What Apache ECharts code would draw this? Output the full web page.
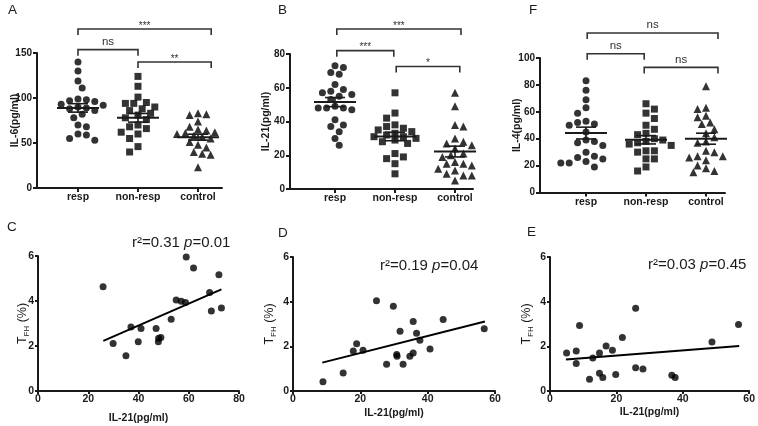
<!DOCTYPE html>
<html><head><meta charset="utf-8">
<script src="https://cdn.jsdelivr.net/npm/echarts@6/dist/echarts.min.js"></script>
<style>html,body{margin:0;padding:0;background:#fff}#c{width:758px;height:426px}</style>
</head><body><div id="c"></div>
<script>
// ---------- data ----------
const categories = ['resp', 'non-resp', 'control'];

const il6Resp    = [140,130,119,111,99,98,97,96,93,92,90,89,88,86,82,78,70,68,60,59,55,53];
const il6NonResp = [124,113,101,95,94,94,90,88,86,83,81,78,76,70,68,66,62,60,55,46,40];
const il6Control = [83,82,81,74,68,65,64,62,61,60,59,58,57,55,51,48,45,40,38,37,23];
const il6Mean = [89, 78, 56.5];
const il6Sem  = [4.7, 4.8, 3.3];

const il21Resp    = [73,72,69,68,62,59,58,57,56,55,53,49,48,48,48,47,41,38,37,34,30,26];
const il21NonResp = [57,45,42,38,37,36,35,34,33,32,31,31,30,29,28,27,21,19,18,15,9];
const il21Control = [57,49,38,37,30,28,27,26,24,21,20,19,16,15,15,14,12,11,9,8,8,5];
const il21Mean = [51.5, 31.1, 22.2];
const il21Sem  = [2.7, 2.5, 3.2];

const il4Resp    = [83,76,69,63,59,53,52,51,50,45,39,38,37,35,30,27,26,25,23,22,22,19];
const il4NonResp = [66,62,59,55,50,47,44,43,40,39,38,37,36,35,31,31,30,25,25,19,16];
const il4Control = [79,63,62,57,56,52,51,47,44,41,38,37,31,30,27,27,26,24,20,18,16,15];
const il4Mean = [44.2, 39.2, 40];
const il4Sem  = [4.4, 3.1, 4.1];

// significance brackets: [from, to, level]
const bracketsA = [[0, 2.22, 176.7], [0, 1, 153.7], [1, 2.22, 140]];
const labelsA = ['***', 'ns', '**'];
const bracketsB = [[0.03, 2.1, 94.8], [0.03, 0.98, 82], [1.02, 2.08, 72.6]];
const labelsB = ['***', '***', '*'];
const bracketsF = [[0.02, 2.2, 118.6], [0.02, 0.97, 103.2], [0.97, 2.2, 93]];
const labelsF = ['ns', 'ns', 'ns'];

// correlation panels
const cX = [25.9,29.9,35,37,39.9,41,47,48,48.9,47.9,53,55,57,58.7,59,61.9,68.3,69,72,73];
const cY = [4.63,2.11,1.57,2.85,2.19,2.78,2.78,2.34,2.38,2.19,3.19,4.04,3.99,3.93,5.96,5.47,4.38,3.56,5.17,3.69];
const fitCX = [26, 73];
const fitCY = [2.23, 4.52];

const dX = [8.9,14.9,17.9,18.9,20.8,24.8,27.8,29.8,31.8,30.8,30.9,32.7,34.7,35.7,35.7,36.7,37.7,40.7,44.6,56.8];
const dY = [0.41,0.81,1.79,2.12,1.82,4.04,1.2,3.79,2.67,1.63,1.56,1.2,1.56,1.7,3.11,2.59,2.27,1.88,3.2,2.79];
const fitDX = [8.7, 57];
const fitDY = [1.27, 3.11];

const eX = [5,7.9,7.9,8.9,11.9,12.9,14.9,14.9,15.9,16.9,18.8,19.8,21.8,25.8,25.8,28,36.7,37.7,48.8,56.8];
const eY = [1.7,1.79,1.23,2.93,0.53,1.48,1.7,0.79,0.61,2.01,1.82,0.74,2.39,3.7,1.04,0.98,0.71,0.61,2.19,2.98];
const fitEX = [4.8, 57];
const fitEY = [1.41, 2.01];

const statsC = ['0.31', '0.01'];
const statsD = ['0.19', '0.04'];
const statsE = ['0.03', '0.45'];

// ---------- layout / style ----------
const FONT = '"Liberation Sans", Arial, Helvetica, sans-serif';
const INK = '#1a1a1a';
const chart = echarts.init(document.getElementById('c'), null, {renderer: 'canvas'});

function zip(a, b) { return a.map((v, i) => [v, b[i]]); }

// column-scatter spreading: greedy placement, capped width (layout only, values unchanged)
function swarm(values, cat, pxX, pxY, size) {
  const order = values.map((v, i) => i).sort((a, b) => values[b] - values[a]);
  const res = new Array(values.length);
  const placed = [];
  const step = 4.2, maxSteps = 6, need = size + 0.6;
  order.forEach((i, k) => {
    const py = values[i] * pxY;
    const sgn = (k % 2) ? 1 : -1;
    let best = null, bestCost = Infinity;
    for (let s = 0; s <= maxSteps; s++) {
      for (const d of (s === 0 ? [0] : [sgn * s, -sgn * s])) {
        const px = d * step;
        let pen = 0;
        placed.forEach(p => { const dist = Math.hypot(p[0] - px, p[1] - py); if (dist < need) pen += need - dist; });
        const cost = pen * 10 + Math.abs(px) * 0.05;
        if (cost < bestCost) { bestCost = cost; best = px; }
      }
      if (bestCost < 1) break;
    }
    placed.push([best, py]);
    res[i] = [cat + best / pxX, values[i]];
  });
  return res;
}

const grids = [], xAxes = [], yAxes = [], series = [];

function axisCommon() {
  return {
    axisLine: {show: true, onZero: false, lineStyle: {color: INK, width: 2}},
    splitLine: {show: false},
    nameMoveOverlap: false
  };
}

function topPanel(g, box, xmin, xmax, ymax, interval, yName, nameGap, groups, means, sems, brackets, blabels) {
  grids.push(box);
  xAxes.push(Object.assign(axisCommon(), {
    gridIndex: g, type: 'value', min: xmin, max: xmax,
    axisTick: {show: true, customValues: [0, 1, 2], length: 4, lineStyle: {color: INK, width: 2}},
    axisLabel: {customValues: [0, 1, 2], formatter: v => categories[Math.round(v)] || '',
      fontFamily: FONT, fontWeight: 'bold', fontSize: 10.5, color: INK, margin: 4}
  }));
  yAxes.push(Object.assign(axisCommon(), {
    gridIndex: g, type: 'value', min: 0, max: ymax, interval: interval,
    axisTick: {show: true, length: 4, lineStyle: {color: INK, width: 2}},
    axisLabel: {fontFamily: FONT, fontWeight: 'bold', fontSize: 10, color: INK, margin: 5},
    name: yName, nameLocation: 'middle', nameGap: nameGap,
    nameTextStyle: {fontFamily: FONT, fontWeight: 'bold', fontSize: 10.5, color: INK}
  }));
  const pxX = box.width / (xmax - xmin);
  const pxY = box.height / ymax;
  const symbols = ['circle', 'rect', 'triangle'];
  const sizes = [7, 7, 8];
  groups.forEach((vals, c) => {
    series.push({
      type: 'scatter', xAxisIndex: g, yAxisIndex: g, symbol: symbols[c], symbolSize: sizes[c],
      itemStyle: {color: '#000'}, silent: true, z: 2,
      data: swarm(vals, c, pxX, pxY, 7)
    });
  });
  series.push({
    type: 'custom', xAxisIndex: g, yAxisIndex: g, z: 5, silent: true,
    data: means.map((m, c) => [c, m, sems[c]]),
    encode: {x: 0, y: 1},
    renderItem: (params, api) => {
      const c = api.coord([api.value(0), api.value(1)]);
      const t = api.coord([api.value(0), api.value(1) + api.value(2)]);
      const b = api.coord([api.value(0), api.value(1) - api.value(2)]);
      const st = {stroke: INK, lineWidth: 1.6};
      return {type: 'group', children: [
        {type: 'line', shape: {x1: c[0] - 21, y1: c[1], x2: c[0] + 21, y2: c[1]}, style: {stroke: INK, lineWidth: 2}},
        {type: 'line', shape: {x1: t[0], y1: t[1], x2: b[0], y2: b[1]}, style: st},
        {type: 'line', shape: {x1: t[0] - 10, y1: t[1], x2: t[0] + 10, y2: t[1]}, style: st},
        {type: 'line', shape: {x1: b[0] - 10, y1: b[1], x2: b[0] + 10, y2: b[1]}, style: st}
      ]};
    }
  });
  series.push({
    type: 'custom', xAxisIndex: g, yAxisIndex: g, z: 5, silent: true, clip: false,
    data: brackets,
    encode: {x: [0, 1], y: 2},
    renderItem: (params, api) => {
      const p1 = api.coord([api.value(0), api.value(2)]);
      const p2 = api.coord([api.value(1), api.value(2)]);
      const lbl = blabels[params.dataIndex];
      const star = lbl.indexOf('*') >= 0;
      return {type: 'group', children: [
        {type: 'polyline', shape: {points: [[p1[0], p1[1] + 6], [p1[0], p1[1]], [p2[0], p2[1]], [p2[0], p2[1] + 6]]},
          style: {stroke: '#333', lineWidth: 1.6, fill: null}},
        {type: 'text', x: (p1[0] + p2[0]) / 2, y: p1[1] - (star ? -2 : 2),
          style: {text: lbl, fill: '#333', fontFamily: FONT, fontSize: star ? 10 : 11.5,
            fontWeight: 'normal', align: 'center', verticalAlign: 'bottom'}}
      ]};
    }
  });
}

function bottomPanel(g, box, xmax, nameGapX, nameGapY, xs, ys, fx, fy) {
  grids.push(box);
  xAxes.push(Object.assign(axisCommon(), {
    gridIndex: g, type: 'value', min: 0, max: xmax, interval: 20,
    axisTick: {show: true, length: 3, lineStyle: {color: INK, width: 2}},
    axisLabel: {fontFamily: FONT, fontWeight: 'bold', fontSize: 10.5, color: INK, margin: 3},
    name: 'IL-21(pg/ml)', nameLocation: 'middle', nameGap: nameGapX,
    nameTextStyle: {fontFamily: FONT, fontWeight: 'bold', fontSize: 10.5, color: INK}
  }));
  yAxes.push(Object.assign(axisCommon(), {
    gridIndex: g, type: 'value', min: 0, max: 6, interval: 2,
    axisTick: {show: true, length: 3, lineStyle: {color: INK, width: 2}},
    axisLabel: {fontFamily: FONT, fontWeight: 'bold', fontSize: 10.5, color: INK, margin: 4},
    name: '{t|T}{s|FH}{t| (%)}', nameLocation: 'middle', nameGap: nameGapY,
    nameTextStyle: {rich: {
      t: {fontFamily: FONT, fontSize: 12.5, color: INK, lineHeight: 16},
      s: {fontFamily: FONT, fontSize: 8, color: INK, verticalAlign: 'bottom', lineHeight: 10}
    }}
  }));
  series.push({
    type: 'scatter', xAxisIndex: g, yAxisIndex: g, symbol: 'circle', symbolSize: 7,
    itemStyle: {color: '#000'}, silent: true, data: zip(xs, ys)
  });
  series.push({
    type: 'line', xAxisIndex: g, yAxisIndex: g, symbol: 'none', silent: true,
    lineStyle: {color: '#000', width: 2}, data: zip(fx, fy)
  });
}

topPanel(0, {left: 37, top: 53, width: 185, height: 135}, -0.683, 2.4, 150, 50, 'IL-6(pg/ml)', 16,
  [il6Resp, il6NonResp, il6Control], il6Mean, il6Sem, bracketsA, labelsA);
topPanel(1, {left: 290, top: 54, width: 183, height: 135}, -0.75, 2.3, 80, 20, 'IL-21(pg/ml)', 18.5,
  [il21Resp, il21NonResp, il21Control], il21Mean, il21Sem, bracketsB, labelsB);
topPanel(2, {left: 540, top: 58, width: 185, height: 134.5}, -0.767, 2.317, 100, 20, 'IL-4(pg/ml)', 17.5,
  [il4Resp, il4NonResp, il4Control], il4Mean, il4Sem, bracketsF, labelsF);

bottomPanel(3, {left: 38, top: 256, width: 201, height: 135}, 80, 22, 7, cX, cY, fitCX, fitCY);
bottomPanel(4, {left: 293, top: 257, width: 202, height: 134}, 60, 17, 15, dX, dY, fitDX, fitDY);
bottomPanel(5, {left: 550, top: 257, width: 202, height: 134}, 60, 16, 15, eX, eY, fitEX, fitEY);

function letter(t, x, y) {
  return {type: 'text', left: x, top: y, silent: true,
    style: {text: t, fontFamily: FONT, fontSize: 13.5, fill: INK}};
}
function stat(s, x, y) {
  return {type: 'text', left: x, top: y, silent: true,
    style: {text: '{n|r²=' + s[0] + ' }{i|p}{n|=' + s[1] + '}',
      rich: {n: {fontFamily: FONT, fontSize: 15, fill: INK, color: INK},
             i: {fontFamily: FONT, fontSize: 15, fontStyle: 'italic', fill: INK, color: INK}}}};
}

chart.setOption({
  animation: false,
  backgroundColor: '#fff',
  grid: grids,
  xAxis: xAxes,
  yAxis: yAxes,
  series: series,
  graphic: [
    letter('A', 8, 3), letter('B', 278, 3), letter('F', 529, 3),
    letter('C', 7, 220), letter('D', 278, 226), letter('E', 527, 225),
    stat(statsC, 132, 235), stat(statsD, 380, 258), stat(statsE, 648, 257)
  ]
});
</script>
</body></html>
